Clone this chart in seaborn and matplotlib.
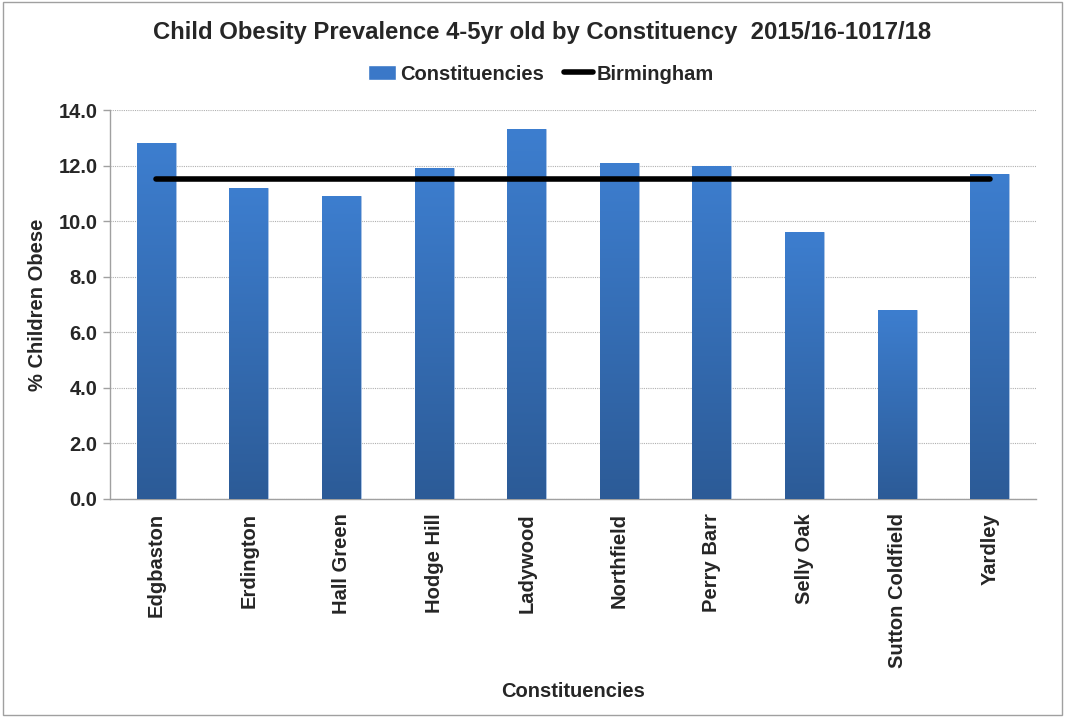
import numpy as np
import pandas as pd
import matplotlib.pyplot as plt
import seaborn as sns
from matplotlib.colors import LinearSegmentedColormap
from matplotlib.patches import Rectangle
from matplotlib.lines import Line2D

constituencies = ['Edgbaston', 'Erdington', 'Hall Green', 'Hodge Hill', 'Ladywood',
                  'Northfield', 'Perry Barr', 'Selly Oak', 'Sutton Coldfield', 'Yardley']
obese_pct = [12.8, 11.2, 10.9, 11.9, 13.3, 12.1, 12.0, 9.6, 6.8, 11.7]
birmingham = 11.5
yticks = [0, 2, 4, 6, 8, 10, 12, 14]

df = pd.DataFrame({'Constituency': constituencies, 'Obese': obese_pct})

sns.set_style('white')
plt.rcParams['font.family'] = ['Liberation Sans', 'DejaVu Sans']

fig = plt.figure(figsize=(10.65, 7.17), dpi=100)
ax = fig.add_axes([110 / 1065, 1 - 499 / 717, 926 / 1065, 389 / 717])

sns.barplot(data=df, x='Constituency', y='Obese', color='#3a78c8', width=0.42,
            ax=ax, zorder=2)

# vertical gradient on each bar (lighter top, darker bottom)
cmap = LinearSegmentedColormap.from_list('bar', ['#2c5b97', '#3d7ecf'])
grad = np.linspace(0, 1, 256).reshape(-1, 1)
for p in ax.patches:
    x0, w, h = p.get_x(), p.get_width(), p.get_height()
    p.set_edgecolor('#a9c4e6')
    p.set_linewidth(0.6)
    im = ax.imshow(grad, cmap=cmap, aspect='auto', origin='lower',
                   extent=[x0, x0 + w, 0, h], zorder=3)
    im.set_clip_path(p)

# Birmingham average line from first to last category
ax.plot([0, len(constituencies) - 1], [birmingham, birmingham], color='black',
        lw=4, solid_capstyle='round', zorder=4)

ax.set_xlim(-0.5, len(constituencies) - 0.5)
ax.set_ylim(0, 14)
ax.set_yticks(yticks)
ax.set_yticklabels([f'{v:.1f}' for v in yticks], fontsize=14.5, fontweight='bold')
ax.yaxis.grid(True, color='#b0b0b0', linestyle=(0, (1, 1)), lw=0.8, zorder=0)
ax.set_axisbelow(True)

ax.set_xticks(range(len(constituencies)))
ax.set_xticklabels(constituencies, rotation=90, fontsize=14.5, fontweight='bold')
ax.set_xticks(np.arange(-0.5, len(constituencies)), minor=True)
ax.tick_params(axis='x', which='major', length=0, pad=10)
ax.tick_params(axis='x', which='minor', length=5, color='#a0a0a0', width=1)
ax.tick_params(axis='y', length=5, color='#a0a0a0', width=1, pad=4, left=True)

for s in ['top', 'right']:
    ax.spines[s].set_visible(False)
for s in ['left', 'bottom']:
    ax.spines[s].set_color('#a0a0a0')
    ax.spines[s].set_linewidth(1)

ax.set_xlabel('Constituencies', fontsize=14.5, fontweight='bold', labelpad=10)
ax.set_ylabel('% Children Obese', fontsize=14.5, fontweight='bold', labelpad=8)

fig.text(0.509, 1 - 33 / 717, 'Child Obesity Prevalence 4-5yr old by Constituency  2015/16-1017/18',
         ha='center', va='center', fontsize=17.2, fontweight='bold')

handles = [Rectangle((0, 0), 1, 1, facecolor='#3a78c8'),
           Line2D([0], [0], color='black', lw=4)]
fig.legend(handles, ['Constituencies', 'Birmingham'], loc='center',
           bbox_to_anchor=(0.508, 1 - 74 / 717), ncol=2, frameon=False,
           prop={'size': 14.5, 'weight': 'bold'}, handlelength=1.4,
           handletextpad=0.2, columnspacing=1.0)

fig.patches.append(Rectangle((0.003, 0.003), 0.994, 0.994, transform=fig.transFigure,
                             fill=False, edgecolor='#a0a0a0', lw=1))

fig.savefig('out.png', dpi=100)
